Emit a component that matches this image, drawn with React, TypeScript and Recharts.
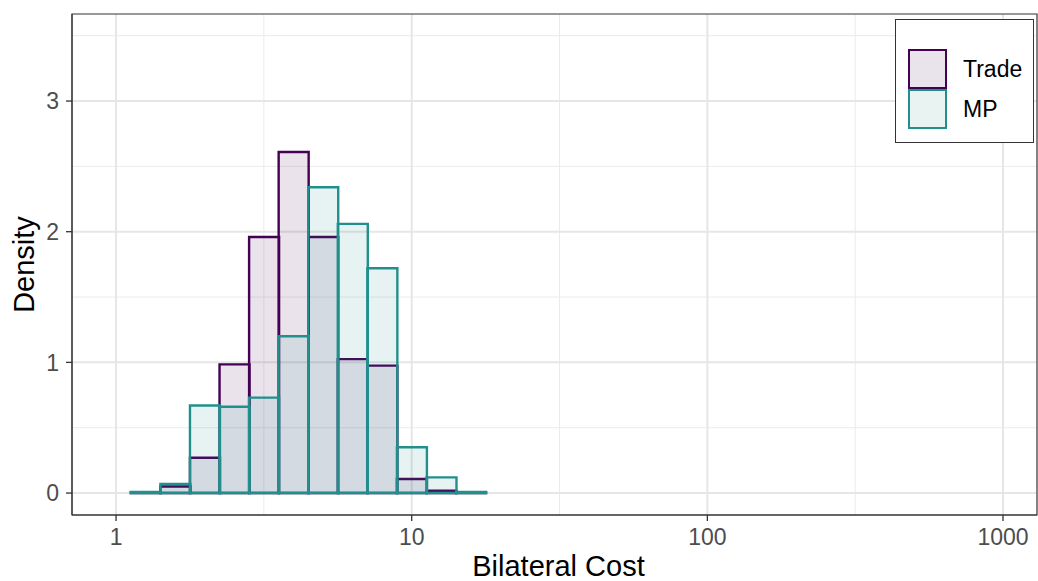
import {
  Bar,
  CartesianGrid,
  ComposedChart,
  ReferenceArea,
  XAxis,
  YAxis,
} from "recharts";

// log10(Bilateral Cost) bin centres, bin width 0.1
const binCenters = [0.1, 0.2, 0.3, 0.4, 0.5, 0.6, 0.7, 0.8, 0.9, 1.0, 1.1, 1.2];
const tradeDensity = [0.005, 0.05, 0.27, 0.985, 1.96, 2.61, 1.96, 1.025, 0.975, 0.107, 0.018, 0.005];
const mpDensity = [0.008, 0.07, 0.67, 0.66, 0.73, 1.2, 2.34, 2.06, 1.72, 0.35, 0.12, 0.008];

const xTicks = [0, 1, 2, 3];
const xMinor = [0.5, 1.5, 2.5];
const yTicks = [0, 1, 2, 3];
const yMinor = [0.5, 1.5, 2.5, 3.5];

const xDomain = [-0.149, 3.115];
const yDomain = [-0.168, 3.666];

const series = [
  { key: "trade", name: "Trade", stroke: "#440154", fill: "#440154", key_fill: "#e9e3eb" },
  { key: "mp", name: "MP", stroke: "#21908C", fill: "#21908C", key_fill: "#e8f3f2" },
];

const data = binCenters.map((x, i) => ({
  x,
  trade: tradeDensity[i],
  mp: mpDensity[i],
}));

const font = "'Liberation Sans', Arial, sans-serif";
const tickStyle = { fill: "#4d4d4d", fontSize: 23, fontFamily: font };

export default function App() {
  return (
    <div style={{ position: "absolute", left: 0, top: 0, width: 1038, height: 581, background: "#fff" }}>
      <ComposedChart
        width={1038}
        height={581}
        data={data}
        margin={{ top: 14, right: 1, bottom: 0, left: 0 }}
        barCategoryGap={0}
        barGap={0}
      >
        <CartesianGrid
          xAxisId="trade"
          stroke="#ebebeb"
          strokeWidth={1}
          horizontalValues={yMinor}
          verticalValues={xMinor}
        />
        <CartesianGrid
          xAxisId="trade"
          stroke="#e6e6e6"
          strokeWidth={2}
          horizontalValues={yTicks}
          verticalValues={xTicks}
        />
        <XAxis
          xAxisId="trade"
          dataKey="x"
          type="number"
          domain={xDomain}
          allowDataOverflow
          ticks={xTicks}
          tickFormatter={(v: number) => String(Math.round(Math.pow(10, v)))}
          tick={tickStyle}
          tickSize={6}
          tickMargin={8}
          tickLine={{ stroke: "#333333", strokeWidth: 1.3 }}
          axisLine={{ stroke: "#333333" }}
          height={66}
          label={{
            value: "Bilateral Cost",
            position: "insideBottom",
            offset: 5,
            dx: 4,
            style: { fill: "#000", fontSize: 29, fontFamily: font },
          }}
        />
        <XAxis
          xAxisId="mp"
          dataKey="x"
          type="number"
          domain={xDomain}
          allowDataOverflow
          hide
          height={0}
        />
        <YAxis
          type="number"
          domain={yDomain}
          allowDataOverflow
          ticks={yTicks}
          tick={tickStyle}
          tickSize={6}
          tickMargin={7}
          tickLine={{ stroke: "#333333", strokeWidth: 1.3 }}
          axisLine={{ stroke: "#333333" }}
          width={72}
          label={{
            value: "Density",
            angle: -90,
            position: "center",
            dx: -12,
            style: { fill: "#000", fontSize: 29, fontFamily: font, textAnchor: "middle" },
          }}
        />
        {series.map((s) => (
          <Bar
            key={s.key}
            xAxisId={s.key}
            dataKey={s.key}
            name={s.name}
            fill={s.fill}
            fillOpacity={0.11}
            stroke={s.stroke}
            strokeWidth={2.4}
            isAnimationActive={false}
          />
        ))}
        <ReferenceArea
          xAxisId="trade"
          x1={xDomain[0]}
          x2={xDomain[1]}
          y1={yDomain[0]}
          y2={yDomain[1]}
          fill="none"
          fillOpacity={0}
          stroke="#333333"
          strokeWidth={1.2}
          ifOverflow="visible"
        />
      </ComposedChart>
      <div
        style={{
          position: "absolute",
          left: 895,
          top: 19,
          width: 137,
          height: 122,
          border: "1px solid #333",
          background: "#fff",
          fontFamily: font,
          boxSizing: "content-box",
        }}
      >
        {series.map((s, i) => (
          <div
            key={s.key}
            style={{ position: "absolute", left: 12, top: 29 + i * 40, height: 40, display: "flex", alignItems: "center" }}
          >
            <div
              style={{
                width: 35,
                height: 36,
                border: `2px solid ${s.stroke}`,
                background: s.key_fill,
              }}
            />
            <span style={{ marginLeft: 16, fontSize: 23, color: "#000" }}>{s.name}</span>
          </div>
        ))}
      </div>
    </div>
  );
}
